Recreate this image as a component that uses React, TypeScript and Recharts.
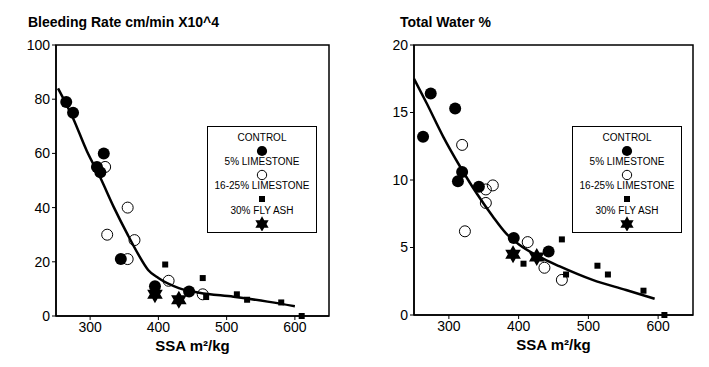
import React from "react";
import {
  ComposedChart,
  Legend,
  Line,
  ReferenceArea,
  Scatter,
  XAxis,
  YAxis
} from "recharts";

// shared axis ticks and series names
const xTicks = [300, 400, 500, 600];
const bleedTicks = [0, 20, 40, 60, 80, 100];
const waterTicks = [0, 5, 10, 15, 20];
const seriesNames = ["CONTROL", "5% LIMESTONE", "16-25% LIMESTONE", "30% FLY ASH"];

// bleeding rate (cm/min x10^4)
const bleedControl = [
  { x: 265, y: 79 }, { x: 275, y: 75 }, { x: 320, y: 60 }, { x: 310, y: 55 },
  { x: 315, y: 53 }, { x: 345, y: 21 }, { x: 395, y: 11 }, { x: 445, y: 9 }
];
const bleedLime5 = [
  { x: 322, y: 55 }, { x: 355, y: 40 }, { x: 325, y: 30 }, { x: 365, y: 28 },
  { x: 355, y: 21 }, { x: 415, y: 13 }, { x: 465, y: 8 }
];
const bleedLime16 = [
  { x: 410, y: 19 }, { x: 465, y: 14 }, { x: 470, y: 7 }, { x: 515, y: 8 },
  { x: 530, y: 6 }, { x: 580, y: 5 }, { x: 610, y: 0 }
];
const bleedFlyAsh = [{ x: 395, y: 8 }, { x: 430, y: 6 }];
const bleedFit = [
  { x: 253, y: 84 }, { x: 275, y: 73 }, { x: 295, y: 61 }, { x: 315, y: 51 },
  { x: 335, y: 40 }, { x: 355, y: 30 }, { x: 370, y: 23 }, { x: 385, y: 17 },
  { x: 400, y: 14 }, { x: 430, y: 10.3 }, { x: 460, y: 8.6 }, { x: 510, y: 7.1 },
  { x: 560, y: 5.3 }, { x: 600, y: 3.6 }
];

// total water (%)
const waterControl = [
  { x: 263, y: 13.2 }, { x: 274, y: 16.4 }, { x: 309, y: 15.3 }, { x: 319, y: 10.6 },
  { x: 313, y: 9.9 }, { x: 343, y: 9.5 }, { x: 393, y: 5.7 }, { x: 443, y: 4.7 }
];
const waterLime5 = [
  { x: 319, y: 12.6 }, { x: 363, y: 9.6 }, { x: 353, y: 9.3 }, { x: 353, y: 8.3 },
  { x: 323, y: 6.2 }, { x: 413, y: 5.4 }, { x: 437, y: 3.5 }, { x: 462, y: 2.6 }
];
const waterLime16 = [
  { x: 462, y: 5.6 }, { x: 407, y: 3.8 }, { x: 468, y: 3.0 }, { x: 513, y: 3.65 },
  { x: 528, y: 3.0 }, { x: 579, y: 1.8 }, { x: 609, y: 0 }
];
const waterFlyAsh = [{ x: 392, y: 4.5 }, { x: 426, y: 4.3 }];
const waterFit = [
  { x: 250, y: 17.5 }, { x: 268, y: 15.7 }, { x: 292, y: 13.2 }, { x: 316, y: 11 },
  { x: 340, y: 9.0 }, { x: 363, y: 7.3 }, { x: 382, y: 6.05 }, { x: 401, y: 5.2 },
  { x: 430, y: 4.3 }, { x: 459, y: 3.6 }, { x: 506, y: 2.6 }, { x: 554, y: 1.85 },
  { x: 595, y: 1.2 }
];

const FONT = "Arial, 'Liberation Sans', Helvetica, sans-serif";

function starPath(cx: number, cy: number, R: number) {
  const r = R / Math.sqrt(3);
  const pts: string[] = [];
  for (let k = 0; k < 12; k++) {
    const a = ((-90 + k * 30) * Math.PI) / 180;
    const rad = k % 2 === 0 ? R : r;
    pts.push(`${(cx + rad * Math.cos(a)).toFixed(2)},${(cy + rad * Math.sin(a)).toFixed(2)}`);
  }
  return `M${pts.join("L")}Z`;
}

type Kind = "filled" | "open" | "square" | "star";

function Marker({ kind, cx, cy, small }: { kind: Kind; cx: number; cy: number; small?: boolean }) {
  const s = small ? 0.85 : 1;
  if (kind === "filled") return <circle cx={cx} cy={cy} r={6 * s} fill="#000" />;
  if (kind === "open")
    return <circle cx={cx} cy={cy} r={5.5 * s} fill="none" stroke="#000" strokeWidth={1} />;
  if (kind === "square")
    return <rect x={cx - 3} y={cy - 3} width={6} height={6} fill="#000" />;
  return <path d={starPath(cx, cy, 9 * s)} fill="#000" />;
}

const kinds: Kind[] = ["filled", "open", "square", "star"];

function LegendBox() {
  const rows = [11, 35, 59, 84];
  return (
    <div
      style={{
        width: 110,
        height: 107,
        border: "1.5px solid #000",
        boxSizing: "border-box",
        background: "#fff"
      }}
    >
      <svg width={107} height={104} style={{ display: "block" }}>
        {seriesNames.map((name, i) => (
          <g key={name}>
            <text
              x={54}
              y={rows[i]}
              textAnchor="middle"
              dominantBaseline="middle"
              fontSize={10}
              fontFamily={FONT}
              fill="#000"
            >
              {name}
            </text>
            <Marker kind={kinds[i]} cx={54} cy={rows[i] + 13} small />
          </g>
        ))}
      </svg>
    </div>
  );
}

interface PanelProps {
  left: number;
  width: number;
  title: string;
  titleLeft: number;
  yTicks: number[];
  yAxisWidth: number;
  marginRight: number;
  marginBottom: number;
  legendLeft: number;
  series: { x: number; y: number }[][];
  fit: { x: number; y: number }[];
}

function Panel(p: PanelProps) {
  const tickStyle = { fontSize: 14, fill: "#000", fontFamily: FONT };
  const axisLine = { stroke: "#000", strokeWidth: 1.5 };
  const yMax = p.yTicks[p.yTicks.length - 1];
  return (
    <div style={{ position: "absolute", left: p.left, top: 0, width: p.width, height: 367 }}>
      <div
        style={{
          position: "absolute",
          left: p.titleLeft,
          top: 14,
          fontFamily: FONT,
          fontWeight: "bold",
          fontSize: 14,
          whiteSpace: "nowrap",
          color: "#000"
        }}
      >
        {p.title}
      </div>
      <ComposedChart
        width={p.width}
        height={367}
        margin={{ top: 45, right: p.marginRight, bottom: p.marginBottom, left: 0 }}
      >
        <XAxis
          dataKey="x"
          type="number"
          domain={[250, 650]}
          ticks={xTicks}
          tick={tickStyle}
          tickSize={4}
          axisLine={axisLine}
          tickLine={{ stroke: "#000" }}
          height={24}
          label={{
            value: "SSA m²/kg",
            position: "bottom",
            offset: 0,
            style: { fontSize: 15, fontWeight: "bold", fill: "#000", fontFamily: FONT }
          }}
        />
        <YAxis
          type="number"
          domain={[0, yMax]}
          ticks={p.yTicks}
          tick={tickStyle}
          tickSize={4}
          width={p.yAxisWidth}
          axisLine={axisLine}
          tickLine={{ stroke: "#000" }}
        />
        <ReferenceArea
          x1={250}
          x2={650}
          y1={0}
          y2={yMax}
          fill="none"
          stroke="#000"
          strokeWidth={1.5}
          ifOverflow="visible"
        />
        <Legend
          layout="horizontal"
          verticalAlign="middle"
          align="center"
          content={() => <LegendBox />}
          wrapperStyle={{ position: "absolute", left: p.legendLeft, top: 126, width: 110, height: 107 }}
        />
        <Line
          data={p.fit}
          dataKey="y"
          type="monotone"
          stroke="#000"
          strokeWidth={2.5}
          dot={false}
          activeDot={false}
          legendType="none"
          isAnimationActive={false}
        />
        {p.series.map((d, i) => (
          <Scatter
            key={seriesNames[i]}
            name={seriesNames[i]}
            data={d}
            dataKey="y"
            isAnimationActive={false}
            shape={(sp: any) => <Marker kind={kinds[i]} cx={sp.cx} cy={sp.cy} />}
          />
        ))}
      </ComposedChart>
    </div>
  );
}

export default function App() {
  return (
    <div
      style={{
        position: "absolute",
        left: 0,
        top: 0,
        width: 709,
        height: 367,
        background: "#fff",
        overflow: "hidden"
      }}
    >
      <Panel
        left={0}
        width={354}
        title="Bleeding Rate cm/min X10^4"
        titleLeft={28}
        yTicks={bleedTicks}
        yAxisWidth={56}
        marginRight={25}
        marginBottom={27}
        legendLeft={207}
        series={[bleedControl, bleedLime5, bleedLime16, bleedFlyAsh]}
        fit={bleedFit}
      />
      <Panel
        left={360}
        width={349}
        title="Total Water %"
        titleLeft={40}
        yTicks={waterTicks}
        yAxisWidth={54}
        marginRight={16}
        marginBottom={28}
        legendLeft={212}
        series={[waterControl, waterLime5, waterLime16, waterFlyAsh]}
        fit={waterFit}
      />
    </div>
  );
}
